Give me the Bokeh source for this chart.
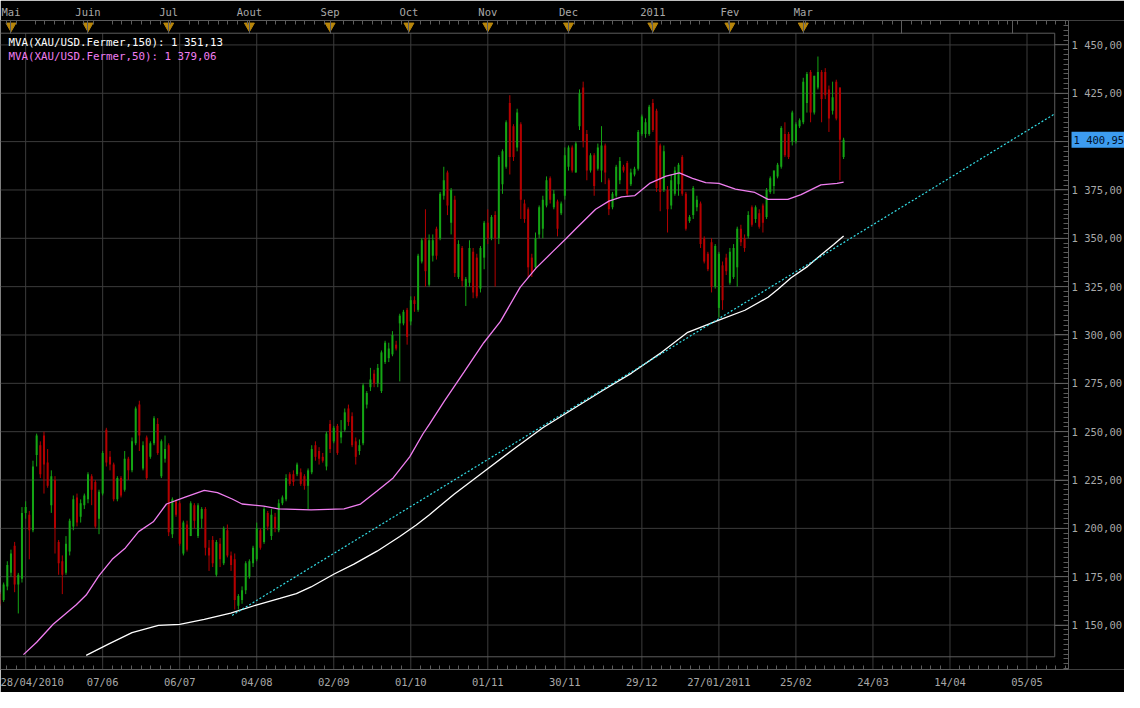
from bokeh.plotting import figure
from bokeh.models import Range1d, FixedTicker, LinearAxis, Label, ColumnDataSource
from bokeh.embed import file_html
from bokeh.resources import INLINE

# ---------------- data ----------------
# daily candles, first one partly hidden at the left edge
open_ = [1166, 1163, 1170, 1177, 1191, 1171, 1174, 1208, 1207, 1199,
         1238, 1243, 1248, 1234, 1212, 1225, 1193, 1183, 1177, 1188,
         1201, 1216, 1206, 1212, 1215, 1227, 1224, 1205, 1218, 1251,
         1237, 1233, 1215, 1226, 1220, 1236, 1230, 1244, 1264, 1231,
         1247, 1237, 1244, 1254, 1227, 1236, 1243, 1197, 1214, 1213,
         1187, 1202, 1196, 1212, 1196, 1205, 1210, 1190,
         1194, 1176, 1192, 1182, 1199, 1186, 1184, 1160, 1163, 1168,
         1175, 1182, 1184, 1199, 1193, 1208, 1196, 1206, 1199, 1213,
         1215, 1228, 1228, 1228, 1229, 1227, 1222, 1229, 1243, 1240,
         1237, 1232, 1254, 1245, 1253, 1247, 1251, 1262, 1258, 1245,
         1240, 1244, 1264, 1273, 1280, 1275, 1271, 1286, 1288, 1290,
         1295, 1306, 1306, 1313, 1307, 1318, 1313, 1338, 1350, 1326,
         1341, 1355, 1350, 1372, 1384, 1358, 1370, 1330, 1345, 1325,
         1327, 1343, 1340, 1324, 1340, 1358, 1350, 1362, 1350, 1378,
         1387, 1420, 1408, 1397, 1409, 1368, 1365, 1340, 1335, 1352,
         1355, 1367, 1381, 1366, 1369, 1363, 1372, 1387, 1397, 1384,
         1408, 1428, 1404, 1385, 1393, 1386, 1385, 1398, 1380, 1366,
         1372, 1380, 1387, 1389, 1378, 1383, 1386,
         1404, 1404, 1404, 1420, 1416, 1398, 1375, 1375, 1367, 1373,
         1378, 1392, 1373, 1359, 1362, 1366, 1368, 1350, 1342, 1348,
         1325, 1314, 1336, 1340, 1327, 1330, 1335, 1355, 1350, 1351,
         1366, 1360, 1363, 1367, 1361, 1374, 1377, 1382, 1387, 1404,
         1404, 1400, 1400, 1408, 1410, 1420, 1436, 1415, 1428, 1436,
         1436, 1427, 1416, 1431, 1428, 1392]
high = [1167, 1172, 1183, 1189, 1193, 1177, 1211, 1214, 1209, 1235,
        1249, 1245, 1250, 1241, 1230, 1227, 1194, 1186, 1196, 1205,
        1217, 1218, 1215, 1218, 1229, 1228, 1225, 1220, 1240, 1252,
        1240, 1234, 1227, 1227, 1240, 1237, 1247, 1263, 1266, 1245,
        1248, 1245, 1258, 1257, 1246, 1248, 1244, 1216, 1215, 1214,
        1204, 1204, 1214, 1213, 1213, 1211, 1211, 1194,
        1196, 1194, 1195, 1201, 1202, 1188, 1187, 1166, 1170, 1183,
        1184, 1191, 1203, 1200, 1211, 1209, 1210, 1208, 1215, 1217,
        1228, 1229, 1230, 1234, 1231, 1228, 1231, 1243, 1245, 1242,
        1239, 1250, 1256, 1253, 1254, 1256, 1262, 1264, 1260, 1247,
        1246, 1275, 1271, 1283, 1282, 1285, 1292, 1297, 1296, 1302,
        1297, 1311, 1313, 1314, 1320, 1320, 1342, 1350, 1365, 1352,
        1352, 1356, 1374, 1387, 1385, 1376, 1372, 1349, 1346, 1330,
        1349, 1345, 1342, 1346, 1359, 1365, 1362, 1364, 1393, 1396,
        1411, 1424, 1409, 1417, 1410, 1370, 1366, 1342, 1353, 1367,
        1372, 1382, 1382, 1375, 1370, 1369, 1397, 1398, 1398, 1400,
        1427, 1431, 1406, 1394, 1394, 1399, 1408, 1399, 1381, 1374,
        1388, 1392, 1388, 1390, 1386, 1387, 1406,
        1414, 1412, 1419, 1422, 1417, 1399, 1398, 1377, 1383, 1387,
        1389, 1393, 1374, 1362, 1377, 1372, 1369, 1351, 1343, 1350,
        1347, 1343, 1338, 1342, 1345, 1347, 1356, 1357, 1352, 1364,
        1367, 1367, 1365, 1368, 1376, 1382, 1385, 1389, 1408, 1410,
        1405, 1416, 1410, 1412, 1433, 1436, 1437, 1434, 1444, 1437,
        1438, 1429, 1431, 1432, 1428, 1402]
low = [1160, 1162, 1168, 1175, 1167, 1156, 1172, 1205, 1184, 1198,
       1232, 1226, 1218, 1221, 1208, 1187, 1176, 1166, 1176, 1186,
       1199, 1201, 1203, 1210, 1213, 1212, 1200, 1197, 1217, 1232,
       1230, 1214, 1214, 1216, 1219, 1225, 1229, 1243, 1240, 1230,
       1225, 1236, 1243, 1238, 1226, 1234, 1196, 1195, 1206, 1191,
       1186, 1188, 1196, 1200, 1195, 1200, 1186, 1178,
       1180, 1175, 1180, 1181, 1185, 1178, 1158, 1158, 1161, 1166,
       1174, 1180, 1183, 1189, 1192, 1199, 1194, 1198, 1198, 1212,
       1214, 1222, 1222, 1227, 1222, 1220, 1210, 1228, 1235, 1233,
       1234, 1230, 1239, 1244, 1238, 1244, 1250, 1253, 1242, 1233,
       1238, 1243, 1262, 1271, 1273, 1273, 1270, 1285, 1286, 1289,
       1292, 1276, 1305, 1295, 1305, 1312, 1312, 1337, 1325, 1325,
       1338, 1339, 1349, 1370, 1362, 1352, 1330, 1329, 1325, 1315,
       1325, 1319, 1319, 1322, 1334, 1347, 1349, 1325, 1347, 1373,
       1386, 1383, 1390, 1395, 1360, 1358, 1330, 1330, 1334, 1350,
       1350, 1366, 1368, 1365, 1351, 1362, 1370, 1385, 1384, 1384,
       1406, 1397, 1380, 1384, 1372, 1385, 1379, 1378, 1362, 1365,
       1371, 1378, 1384, 1372, 1377, 1382, 1385,
       1403, 1402, 1403, 1405, 1374, 1364, 1374, 1353, 1365, 1372,
       1372, 1372, 1354, 1358, 1360, 1364, 1345, 1337, 1333, 1322,
       1324, 1309, 1313, 1331, 1326, 1329, 1325, 1346, 1343, 1350,
       1356, 1358, 1355, 1353, 1360, 1373, 1373, 1381, 1386, 1392,
       1391, 1398, 1399, 1407, 1409, 1415, 1410, 1414, 1427, 1410,
       1422, 1405, 1414, 1411, 1380, 1391]
close = [1161, 1171, 1181, 1187, 1171, 1176, 1208, 1211, 1199, 1232,
         1248, 1228, 1233, 1222, 1227, 1200, 1182, 1176, 1192, 1204,
         1215, 1203, 1213, 1217, 1228, 1220, 1201, 1219, 1239, 1234,
         1233, 1215, 1226, 1217, 1236, 1230, 1245, 1262, 1248, 1243,
         1226, 1244, 1257, 1239, 1245, 1241, 1198, 1215, 1207, 1192,
         1203, 1189, 1213, 1204, 1212, 1210, 1190, 1186,
         1182, 1193, 1184, 1200, 1186, 1181, 1163, 1165, 1168, 1182,
         1183, 1190, 1200, 1190, 1210, 1201, 1207, 1200, 1213, 1216,
         1226, 1223, 1224, 1233, 1223, 1222, 1230, 1241, 1237, 1236,
         1235, 1249, 1241, 1252, 1239, 1250, 1260, 1255, 1243, 1237,
         1243, 1274, 1270, 1277, 1275, 1283, 1291, 1296, 1293, 1300,
         1293, 1310, 1312, 1299, 1318, 1316, 1341, 1349, 1333, 1349,
         1349, 1341, 1373, 1380, 1367, 1375, 1332, 1347, 1328, 1329,
         1345, 1322, 1320, 1345, 1358, 1350, 1361, 1350, 1392, 1395,
         1410, 1392, 1392, 1415, 1370, 1360, 1335, 1332, 1350, 1366,
         1370, 1380, 1370, 1373, 1355, 1368, 1393, 1397, 1385, 1399,
         1425, 1400, 1385, 1393, 1377, 1397, 1398, 1384, 1365, 1373,
         1387, 1390, 1385, 1373, 1384, 1386, 1405,
         1413, 1410, 1418, 1406, 1376, 1374, 1395, 1365, 1380, 1385,
         1388, 1373, 1355, 1361, 1376, 1370, 1347, 1338, 1334, 1325,
         1346, 1342, 1318, 1333, 1343, 1345, 1355, 1348, 1345, 1362,
         1357, 1366, 1356, 1358, 1375, 1381, 1385, 1388, 1407, 1393,
         1392, 1415, 1409, 1411, 1431, 1435, 1415, 1434, 1436, 1422,
         1424, 1412, 1423, 1412, 1401, 1400.95]

# moving averages (bar position, price)
ma150_u = [22.5, 28.7, 35.0, 42.2, 48.0, 54.7, 61.9, 69.1, 75.3, 79.8,
           83.8, 90.1, 95.5, 101.8, 108.0, 112.5, 116.1, 122.8, 130.9, 139.0,
           147.0, 155.1, 163.2, 171.2, 179.3, 186.5, 195.0, 202.1, 208.4, 211.1,
           214.7, 219.2, 222.8, 226.3, 229.0]
ma150_p = [1134.3, 1140.3, 1146.1, 1149.8, 1150.4, 1152.9, 1156.2, 1160.5, 1163.8, 1166.3,
           1169.7, 1176.4, 1181.5, 1188.2, 1195.8, 1201.7, 1207.1, 1217.7, 1229.3, 1240.9,
           1252.0, 1261.6, 1271.2, 1280.3, 1290.9, 1301.4, 1307.7, 1312.8, 1319.5, 1323.7,
           1329.6, 1335.5, 1341.4, 1346.8, 1351.13]
ma50_u = [5.4, 9.0, 13.5, 19.8, 22.5, 26.0, 29.6, 33.2, 36.8, 40.8,
          44.4, 49.3, 54.7, 58.3, 62.3, 65.0, 70.9, 74.9, 83.8, 92.8,
          97.3, 101.8, 106.2, 110.7, 114.3, 116.1, 120.1, 125.5, 130.9, 135.4,
          140.8, 145.2, 149.7, 153.3, 156.0, 161.4, 165.0, 168.5, 172.1, 176.1,
          180.6, 184.2, 187.8, 191.4, 195.0, 199.5, 204.8, 208.4, 213.8, 217.4,
          222.8, 227.2, 229.0]
ma50_p = [1134.7, 1141.1, 1150.4, 1160.5, 1165.5, 1175.6, 1184.0, 1189.9, 1198.3, 1203.4,
          1212.6, 1216.0, 1219.7, 1218.5, 1215.2, 1212.6, 1211.5, 1210.1, 1209.6, 1210.1,
          1212.6, 1219.3, 1226.1, 1237.0, 1248.8, 1253.9, 1265.7, 1280.8, 1296.0, 1306.9,
          1324.6, 1334.7, 1343.1, 1349.8, 1354.9, 1365.0, 1369.2, 1371.4, 1372.1, 1378.4,
          1382.2, 1383.8, 1381.0, 1378.8, 1378.4, 1375.4, 1373.7, 1370.1, 1370.1, 1372.6,
          1377.6, 1378.4, 1379.06]
# trend line
trend_u = [62.3, 286.6]
trend_p = [1155.0, 1414.4]

# axes
price_ticks = [1150, 1175, 1200, 1225, 1250, 1275, 1300, 1325, 1350, 1375, 1400, 1425, 1450]
date_ticks = [7.75, 27, 48, 69, 90, 111, 132, 153, 174, 195, 216, 237, 258, 279]
date_labels = ["28/04/2010", "07/06", "06/07", "04/08", "02/09", "01/10", "01/11",
               "30/11", "29/12", "27/01/2011", "25/02", "24/03", "14/04", "05/05"]
grid_u = [6, 27, 48, 69, 90, 111, 132, 153, 174, 195, 216, 237, 258, 279]
month_ticks = [2, 23, 45, 67, 89, 110.5, 132, 154, 177, 198, 218]
month_labels = ["Mai", "Juin", "Jul", "Aout", "Sep", "Oct", "Nov", "Dec", "2011", "Fev", "Mar"]
future_month_ticks = [244.9, 275.0]


def fr(v):
    return f"{v:,.2f}".replace(",", " ").replace(".", ",")


# ---------------- layout constants ----------------
XL, XR = -0.855, 305.58          # frame also spans the price-label column
U_AX = 290.32                    # position of the price axis line
YB, YT = 1127.02, 1462.63
P_IN_TOP, P_IN_BOT, U_IN_RIGHT = 1456.06, 1133.59, 286.56
GRID = "#3c3c3c"
EDGE = "#5c5c5c"
TXT = "#a8a8a8"
FONT = "DejaVu Sans Mono"
GREEN, RED = "#14a514", "#b40000"
VIOLET = "#f07ef0"

p = figure(width=1124, height=692, output_backend="svg", toolbar_location=None,
           x_range=Range1d(XL, XR), y_range=Range1d(YB, YT),
           x_axis_location="below", y_axis_location=None,
           min_border_left=0, min_border_right=0, min_border_top=20, min_border_bottom=23,
           background_fill_color="black", border_fill_color="black",
           outline_line_color=None)
p.xgrid.visible = False
p.ygrid.visible = False

minor_price = [1127.5 + 2.5 * k for k in range(135) if (1127.5 + 2.5 * k) % 25 != 0]
yax = LinearAxis(fixed_location=U_AX,
                 ticker=FixedTicker(ticks=price_ticks, minor_ticks=minor_price),
                 major_label_overrides={t: fr(t) for t in price_ticks})
p.add_layout(yax, "right")

minor_u = [6 + 2.625 * k for k in range(-2, 110) if k % 8 != 0 and XL < 6 + 2.625 * k < U_AX]
xax = p.xaxis[0]
xax.ticker = FixedTicker(ticks=date_ticks, minor_ticks=minor_u)
xax.major_label_overrides = dict(zip(date_ticks, date_labels))

top = LinearAxis(ticker=FixedTicker(ticks=month_ticks + future_month_ticks, minor_ticks=minor_u),
                 major_label_overrides={**dict(zip(month_ticks, month_labels)),
                                        **{t: "" for t in future_month_ticks}})
p.add_layout(top, "above")

for ax in (yax, xax, top):
    ax.axis_line_color = EDGE
    ax.major_tick_line_color = EDGE
    ax.minor_tick_line_color = EDGE
    ax.major_tick_out = 0
    ax.minor_tick_out = 0
    ax.minor_tick_in = 4
    ax.major_label_text_color = TXT
    ax.major_label_text_font = FONT
    ax.major_label_text_font_size = "10.5px"
xax.bounds = (XL, U_AX)
top.bounds = (XL, U_AX)
yax.major_tick_in = 14
yax.minor_tick_in = 5
yax.major_label_standoff = 3
xax.major_tick_in = 0
xax.major_label_standoff = 6
top.major_tick_in = 13
top.major_label_standoff = 3

# grid lines
p.segment(x0=[XL] * len(price_ticks), y0=price_ticks, x1=[U_AX] * len(price_ticks), y1=price_ticks,
          line_color=GRID, line_width=1)
p.segment(x0=grid_u, y0=[YB] * len(grid_u), x1=grid_u, y1=[P_IN_TOP] * len(grid_u),
          line_color=GRID, line_width=1)
# inner frame
p.line(x=[XL, U_IN_RIGHT, U_IN_RIGHT, XL], y=[P_IN_TOP, P_IN_TOP, P_IN_BOT, P_IN_BOT],
       line_color=EDGE, line_width=1)
# month markers
p.scatter(x=month_ticks, y=[1459.8] * len(month_ticks), marker="inverted_triangle",
          size=10, fill_color="#b8860b", line_color="#b8860b")

# candles
xs = [i - 1 for i in range(len(close))]
cols = [GREEN if c >= o else RED for o, c in zip(open_, close)]
src = ColumnDataSource(dict(x=xs, hi=high, lo=low,
                            top=[max(o, c) for o, c in zip(open_, close)],
                            bot=[min(o, c) for o, c in zip(open_, close)],
                            col=cols))
p.segment(x0="x", y0="lo", x1="x", y1="hi", line_color="col", line_width=1, source=src)
p.vbar(x="x", width=0.55, top="top", bottom="bot", fill_color="col", line_color=None, source=src)

# indicators
p.line(ma50_u, ma50_p, line_color=VIOLET, line_width=1.3)
p.line(ma150_u, ma150_p, line_color="white", line_width=1.3)
p.line(trend_u, trend_p, line_color="#33dde6", line_width=1.2, line_dash="2 2")

# legend texts
p.add_layout(Label(x=1.3, y=1451.5, text=f"MVA(XAU/USD.Fermer,150): {fr(ma150_p[-1])}",
                   text_color="white", text_font=FONT, text_font_size="10.8px",
                   text_baseline="middle"))
p.add_layout(Label(x=1.3, y=1443.9, text=f"MVA(XAU/USD.Fermer,50): {fr(ma50_p[-1])}",
                   text_color=VIOLET, text_font=FONT, text_font_size="10.8px",
                   text_baseline="middle"))
# last price box on the axis
p.add_layout(Label(x=U_AX, y=close[-1], x_offset=3, text=fr(close[-1]),
                   text_color="#001028", text_font=FONT, text_font_size="10.5px",
                   text_baseline="middle", text_align="left",
                   background_fill_color="#3d9cf0", padding=2))

open("out.html", "w").write(file_html(p, INLINE))
